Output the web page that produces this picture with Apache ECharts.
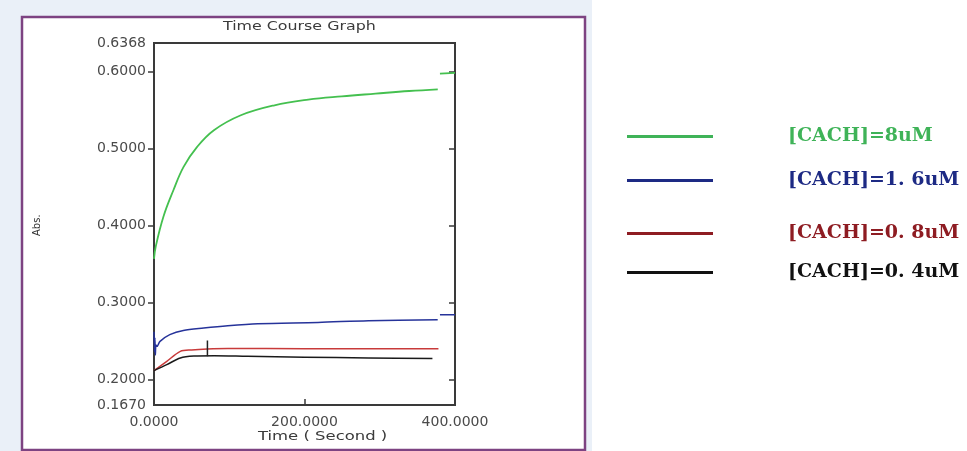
<!DOCTYPE html>
<html>
<head>
<meta charset="utf-8">
<script src="https://cdn.jsdelivr.net/npm/echarts@6/dist/echarts.min.js"></script>
<style>html,body{margin:0;padding:0;background:#fff}#c{width:967px;height:451px}</style>
</head>
<body>
<div id="c"></div>
<script>
// ---- data ----
var seriesNames = ['[CACH]=8uM', '[CACH]=1. 6uM', '[CACH]=0. 8uM', '[CACH]=0. 4uM'];
var greenT = [0, 2.3, 12.5, 25.9, 39.3, 57.3, 79.6, 115.4, 160.1, 204.9, 249.6, 294.3, 339.1, 377.1];
var greenV = [0.3566, 0.3726, 0.4114, 0.4460, 0.4761, 0.5020, 0.5236, 0.5430, 0.5560, 0.5633, 0.5676, 0.5711, 0.5745, 0.5767];
var blueT = [0, 0.6, 1.2, 1.8, 2.6, 4, 8, 21, 39, 66, 98, 138, 218, 285, 377];
var blueV = [0.262, 0.236, 0.254, 0.232, 0.245, 0.2431, 0.2496, 0.2583, 0.2638, 0.2669, 0.2699, 0.2725, 0.2742, 0.2764, 0.2777];
var redT = [0, 17, 35, 50, 71, 98, 200, 378];
var redV = [0.2115, 0.2237, 0.2366, 0.2385, 0.2397, 0.2403, 0.2401, 0.2401];
var blackT = [0, 17, 35, 53, 80, 124, 200, 285, 370];
var blackV = [0.2117, 0.2194, 0.228, 0.2305, 0.231, 0.2302, 0.229, 0.2281, 0.2274];
var greenStubT = [380, 400], greenStubV = [0.597, 0.598];
var blueStubT = [380, 400], blueStubV = [0.2841, 0.2841];
var cursorT = [71, 71], cursorV = [0.2508, 0.2302];
var yLabelValues = [0.167, 0.2, 0.3, 0.4, 0.5, 0.6, 0.6368];
var yTickValues = [0.2, 0.3, 0.4, 0.5, 0.6];
var xLabelValues = [0, 200, 400];
var xTickValues = [200];

function zip(t, v) { return t.map(function (x, i) { return [x, v[i]]; }); }

var plotColors = ['#44c04f', '#26339a', '#c83a3a', '#1a1a1a'];
var legendColors = ['#3fb358', '#1d2a84', '#8e1c22', '#111111'];
var legendY = [127, 171, 224, 263];

var chart = echarts.init(document.getElementById('c'));
var legends = seriesNames.map(function (n, i) {
  return {
    left: 627, top: legendY[i], orient: 'vertical', padding: 0,
    icon: 'rect', itemWidth: 86, itemHeight: 3,
    data: [{ name: n, itemStyle: { color: legendColors[i] }, textStyle: { color: legendColors[i] } }],
    textStyle: { fontFamily: 'DejaVu Serif', fontWeight: 'bold', fontSize: 19, padding: [0, 0, 3, 70] },
    selectedMode: false
  };
});

var option = {
  animation: false,
  backgroundColor: '#ffffff',
  graphic: [
    { type: 'rect', shape: { x: 0, y: 0, width: 592, height: 451 }, style: { fill: '#eaf0f8' }, z: -10 },
    { type: 'rect', shape: { x: 22, y: 17, width: 563, height: 433 }, style: { fill: '#ffffff', stroke: '#7d4382', lineWidth: 2.5 }, z: -9 },
    { type: 'text', x: 223, y: 21, scaleX: 1.32, style: { text: 'Time Course Graph', font: '12px "DejaVu Sans"', fill: '#3a3a3a' } },
    { type: 'text', x: 258, y: 431, scaleX: 1.37, style: { text: 'Time ( Second )', font: '12px "DejaVu Sans"', fill: '#3a3a3a' } },
    { type: 'text', x: 32, y: 236, rotation: Math.PI / 2, style: { text: 'Abs.', font: '10px "DejaVu Sans"', fill: '#333' } }
  ],
  legend: legends,
  grid: { left: 154, right: 512, top: 43, bottom: 46, show: true, borderColor: '#3a3a3a', borderWidth: 2, backgroundColor: '#fff' },
  xAxis: [{
    type: 'value', min: 0, max: 400,
    splitLine: { show: false },
    axisLine: { show: true, lineStyle: { color: '#3a3a3a', width: 2 } },
    axisTick: { show: true, inside: true, length: 6, customValues: xTickValues, lineStyle: { color: '#3a3a3a', width: 1.5 } },
    axisLabel: { customValues: xLabelValues, margin: 10, showMaxLabel: true, formatter: function (v) { return v.toFixed(4); },
      fontFamily: 'DejaVu Sans', fontSize: 14, color: '#4a4a4a' }
  }],
  yAxis: [{
    type: 'value', min: 0.167, max: 0.6368,
    splitLine: { show: false },
    axisLine: { show: true, lineStyle: { color: '#3a3a3a', width: 2 } },
    axisTick: { show: true, length: 6, customValues: yTickValues, lineStyle: { color: '#3a3a3a', width: 1.5 } },
    axisLabel: { customValues: yLabelValues, margin: 8, showMinLabel: true, showMaxLabel: true, formatter: function (v) { return v.toFixed(4); },
      fontFamily: 'DejaVu Sans', fontSize: 14, color: '#4a4a4a' }
  }, {
    type: 'value', min: 0.167, max: 0.6368, position: 'right',
    splitLine: { show: false },
    axisLine: { show: true, lineStyle: { color: '#3a3a3a', width: 2 } },
    axisTick: { show: true, inside: true, length: 6, customValues: yTickValues, lineStyle: { color: '#3a3a3a', width: 1.5 } },
    axisLabel: { show: false }
  }],
  series: [
    { name: seriesNames[0], type: 'line', data: zip(greenT, greenV), smooth: 0.4, symbol: 'none', lineStyle: { color: plotColors[0], width: 1.8 }, itemStyle: { color: legendColors[0] } },
    { name: seriesNames[1], type: 'line', data: zip(blueT, blueV), smooth: 0.3, symbol: 'none', lineStyle: { color: plotColors[1], width: 1.5 }, itemStyle: { color: legendColors[1] } },
    { name: seriesNames[2], type: 'line', data: zip(redT, redV), smooth: 0.3, symbol: 'none', lineStyle: { color: plotColors[2], width: 1.5 }, itemStyle: { color: legendColors[2] } },
    { name: seriesNames[3], type: 'line', data: zip(blackT, blackV), smooth: 0.3, symbol: 'none', lineStyle: { color: plotColors[3], width: 1.5 }, itemStyle: { color: legendColors[3] } },
    { name: 'stubG', type: 'line', data: zip(greenStubT, greenStubV), symbol: 'none', lineStyle: { color: plotColors[0], width: 1.8 } },
    { name: 'stubB', type: 'line', data: zip(blueStubT, blueStubV), symbol: 'none', lineStyle: { color: plotColors[1], width: 1.5 } },
    { name: 'cursor', type: 'line', data: zip(cursorT, cursorV), symbol: 'none', lineStyle: { color: '#222', width: 1.5 } }
  ]
};
chart.setOption(option);
</script>
</body>
</html>
